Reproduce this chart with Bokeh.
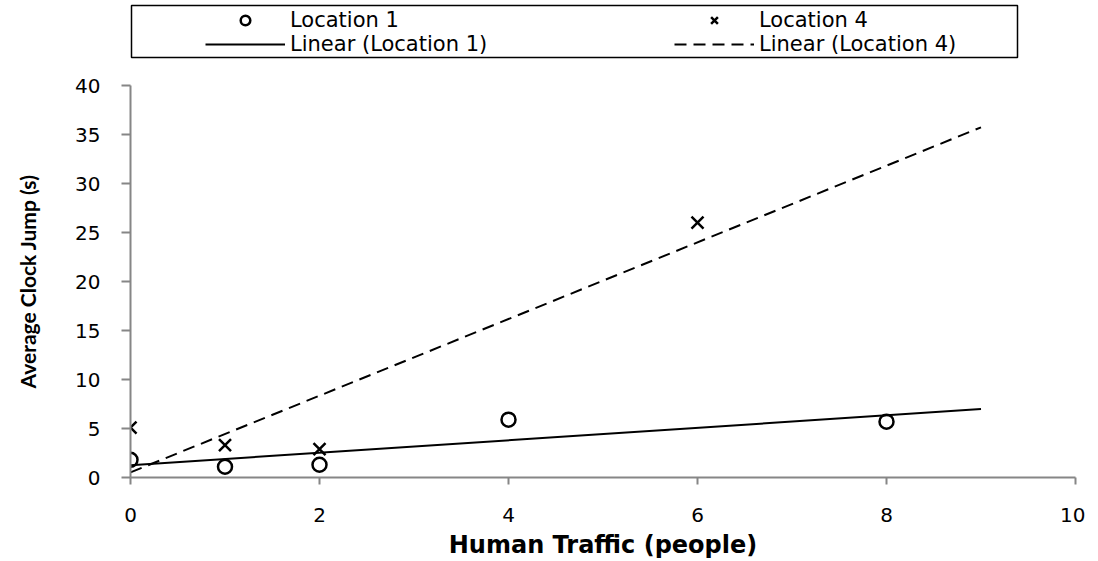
import numpy as np
from bokeh.plotting import figure
from bokeh.models import Legend, LegendItem, FixedTicker, Range1d
from bokeh.embed import file_html
from bokeh.resources import INLINE

# ---- data ----
traffic_loc1 = [0, 1, 2, 4, 8]
jump_loc1 = [1.8, 1.1, 1.3, 5.9, 5.7]
traffic_loc4 = [0, 1, 2, 6]
jump_loc4 = [5.1, 3.3, 2.9, 26.0]
trend_x = [0, 9]
x_ticks = [0, 2, 4, 6, 8, 10]
y_ticks = [0, 5, 10, 15, 20, 25, 30, 35, 40]
legend_labels = ["Location 1", "Location 4", "Linear (Location 1)", "Linear (Location 4)"]

# linear trendlines (least squares, as in the spreadsheet)
s1, b1 = np.polyfit(traffic_loc1, jump_loc1, 1)
s4, b4 = np.polyfit(traffic_loc4, jump_loc4, 1)
trend_y1 = [s1 * x + b1 for x in trend_x]
trend_y4 = [s4 * x + b4 for x in trend_x]

AXIS_GRAY = "#868686"
circle_style = dict(marker="circle", size=14, line_color="black", line_width=2.5, fill_alpha=0)
cross_style = dict(marker="x", size=17, line_color="black", line_width=2.5)
solid_style = dict(line_color="black", line_width=2)
dash_style = dict(line_color="black", line_width=2, line_dash="12 7")

# ---- main plot ----
p = figure(width=1085, height=501, x_range=Range1d(0, 10), y_range=Range1d(0, 40),
           output_backend="svg", toolbar_location=None,
           min_border_left=130, min_border_right=10, min_border_top=25, min_border_bottom=84)
p.outline_line_color = None
p.grid.visible = False

p.line(trend_x, trend_y1, **solid_style)
p.line(trend_x, trend_y4, **dash_style)
p.scatter(traffic_loc1, jump_loc1, **circle_style)
p.scatter(traffic_loc4, jump_loc4, **cross_style)

for ax in (p.xaxis[0], p.yaxis[0]):
    ax.axis_line_color = AXIS_GRAY
    ax.axis_line_width = 2
    ax.major_tick_line_color = AXIS_GRAY
    ax.major_tick_line_width = 2
    ax.major_tick_in = 0
    ax.minor_tick_line_color = None
    ax.major_label_text_font = "DejaVu Sans"
    ax.major_label_text_font_size = "20px"
    ax.major_label_text_color = "black"
    ax.axis_label_text_color = "black"
    ax.axis_label_text_font_style = "bold"

p.xaxis.ticker = FixedTicker(ticks=x_ticks)
p.yaxis.ticker = FixedTicker(ticks=y_ticks)
p.xaxis.major_tick_out = 7
p.yaxis.major_tick_out = 9
p.xaxis.major_label_standoff = 23
p.yaxis.major_label_standoff = 21

p.xaxis.axis_label = "Human Traffic (people)"
p.xaxis.axis_label_text_font = "DejaVu Sans"
p.xaxis.axis_label_text_font_size = "24px"
p.xaxis.axis_label_standoff = 6

p.yaxis.axis_label = "Average Clock Jump (s)"
p.yaxis.axis_label_text_font = "Lato"
p.yaxis.axis_label_text_font_size = "21px"
p.yaxis.axis_label_standoff = 32

# ---- legend strip: the frame outline is the legend box ----
lf = figure(width=1085, height=60, x_range=Range1d(0, 1), y_range=Range1d(0, 1),
            output_backend="svg", toolbar_location=None,
            x_axis_location=None, y_axis_location=None,
            min_border_left=131, min_border_right=68, min_border_top=5, min_border_bottom=3)
lf.grid.visible = False
lf.outline_line_color = "black"
lf.outline_line_width = 1.5

nan = [np.nan]
r1 = lf.scatter(nan, nan, **circle_style)
r4 = lf.scatter(nan, nan, **cross_style)
l1 = lf.line(nan, nan, **solid_style)
l4 = lf.line(nan, nan, **dash_style)

legend = Legend(items=[LegendItem(label=legend_labels[0], renderers=[r1]),
                       LegendItem(label=legend_labels[1], renderers=[r4]),
                       LegendItem(label=legend_labels[2], renderers=[l1]),
                       LegendItem(label=legend_labels[3], renderers=[l4])],
                ncols=2, orientation="horizontal", location=(73, 0),
                glyph_width=80, glyph_height=24, label_width=384, label_height=24,
                label_standoff=5, spacing=0, padding=1, margin=0,
                border_line_alpha=0, background_fill_alpha=0,
                label_text_font="DejaVu Sans", label_text_font_size="21px",
                label_text_color="black")
lf.add_layout(legend)

open("out.html", "w").write(file_html([lf, p], INLINE))
